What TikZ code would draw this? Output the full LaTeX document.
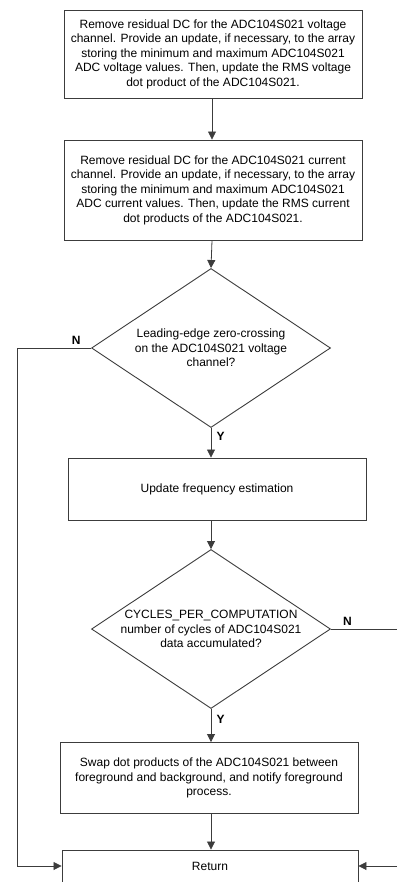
\documentclass[tikz,border=0pt]{standalone}
\usepackage{fontspec}
\setmainfont{Liberation Sans}
\usepackage{tikz}
\usetikzlibrary{shapes.geometric}
\usetikzlibrary{arrows.meta}
\definecolor{lnc}{RGB}{60,60,60}

\begin{document}
\begin{tikzpicture}[x=1pt,y=-1pt,
    every node/.style={font=\fontsize{12}{14.5}\selectfont},
    procbox/.style={rectangle,draw=lnc,line width=0.9pt,minimum width=298pt,align=center,inner sep=2pt},
    decbox/.style={diamond,draw=lnc,line width=0.9pt,minimum width=239pt,minimum height=159pt,aspect=1.5,align=center,inner sep=0pt},
    yn/.style={font=\fontsize{12}{14}\selectfont\bfseries},
    line/.style={draw=lnc,line width=0.8pt},
    flow/.style={line,-{Triangle[length=8pt,width=8pt]}}]

    \useasboundingbox (0,0) rectangle (397,882);
    \clip (0,0) rectangle (397,882);

    \node[procbox,minimum height=88pt]  (b1) at (213, 54)  {Remove residual DC for the ADC104S021 voltage\\channel. Provide an update, if necessary, to the array\\storing the minimum and maximum ADC104S021\\ADC voltage values. Then, update the RMS voltage\\dot product of the ADC104S021.};
    \node[procbox,minimum height=100pt] (b2) at (213, 190) {Remove residual DC for the ADC104S021 current\\channel. Provide an update, if necessary, to the array\\storing the minimum and maximum ADC104S021\\ADC current values. Then, update the RMS current\\dot products of the ADC104S021.};
    \node[decbox]                       (d1) at (211, 348) {Leading-edge zero-crossing\\on the ADC104S021 voltage\\channel?};
    \node[procbox,minimum height=62pt]  (b3) at (217, 489) {Update frequency estimation};
    \node[decbox]                       (d2) at (211, 629) {CYCLES\_PER\_COMPUTATION\\number of cycles of ADC104S021\\data accumulated?};
    \node[procbox,minimum height=71pt]  (b4) at (209, 778) {Swap dot products of the ADC104S021 between\\foreground and background, and notify foreground\\process.};
    \node[procbox,minimum width=296pt,minimum height=32pt] (ret) at (210, 866) {Return};

    \coordinate (lft) at (17, 348);
    \coordinate (rgt) at (397, 629);
    \coordinate (rin) at (397, 866);

    \draw[flow] (b1.south -| 212,0) -- (b2.north -| 212,0);
    \draw[flow] (b2.south -| 212,0) -- (d1.north);
    \draw[flow] (d1.west) -- node[yn,above,pos=0.2] {N} (lft) |- (ret.west);
    \draw[flow] (d1.south) -- node[yn,right,pos=0.3,xshift=2pt] {Y} (d1.south |- b3.north);
    \draw[flow] (b3.south -| d2.north) -- (d2.north);
    \draw[line] (d2.east) -- node[yn,above,pos=0.25] {N} (rgt);
    \draw[flow] (d2.south) -- node[yn,right,pos=0.3,xshift=2pt] {Y} (d2.south |- b4.north);
    \draw[flow] (b4.south -| d2.south) -- (d2.south |- ret.north);
    \draw[flow] (rin) -- (ret.east);
\end{tikzpicture}
\end{document}
